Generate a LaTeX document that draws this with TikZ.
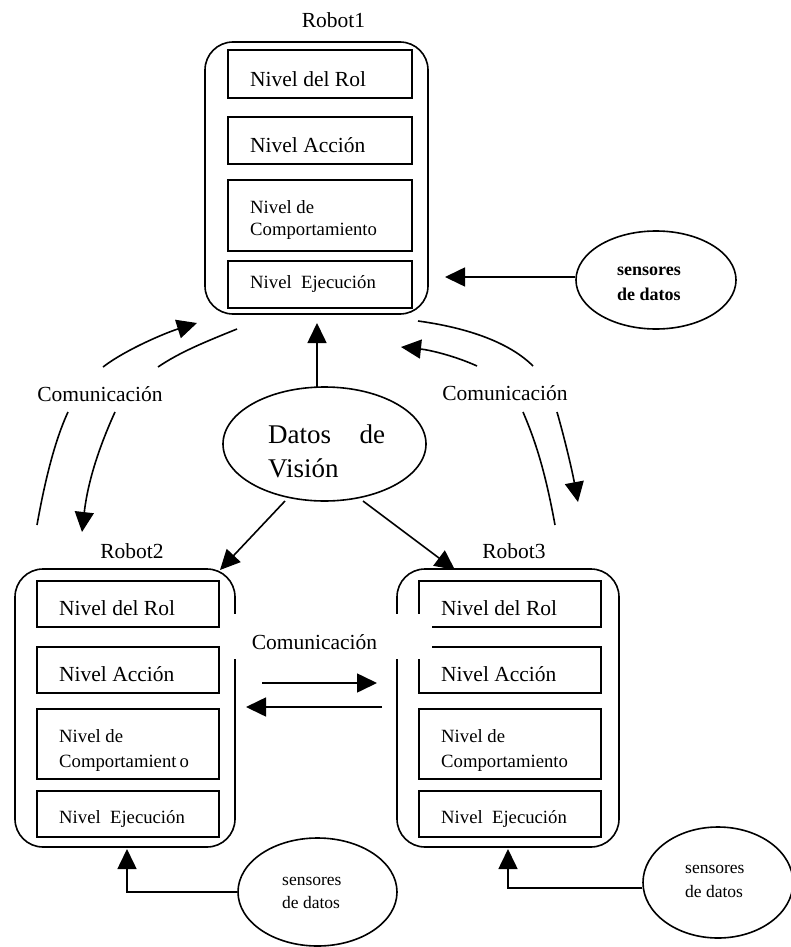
\documentclass[tikz,border=0pt]{standalone}
\usepackage{fontspec}
\setmainfont{Liberation Serif}
\usetikzlibrary{arrows.meta,shapes.geometric}

\tikzset{
  ink/.style={line width=1.6pt, black},
  robotbox/.style={draw, ink, rounded corners=28pt, inner sep=0pt},
  levelbox/.style={draw, ink, rectangle, inner sep=0pt},
  blob/.style={draw, ink, ellipse, inner sep=0pt},
  bigtxt/.style={font=\fontsize{21.5}{24}\selectfont, inner sep=0pt, anchor=base west},
  smalltxt/.style={font=\fontsize{18.7}{22}\selectfont, inner sep=0pt, anchor=base west},
  senstxt/.style={font=\fontsize{17.5}{20}\selectfont, inner sep=0pt, anchor=base west},
  titletxt/.style={font=\fontsize{21.5}{24}\selectfont, inner sep=0pt, anchor=base},
  conn/.style={ink, -{Triangle[length=20pt,width=19pt]}},
  plain/.style={ink}
}

\begin{document}
\begin{tikzpicture}[x=1pt,y=-1pt]
\useasboundingbox (0,0) rectangle (791,947);

% ---------------- Robot1 ----------------
\node[titletxt] (t1) at (333.5,28) {Robot1};
\node[robotbox, minimum width=223pt, minimum height=272pt] (r1) at (316.5,178) {};
\node[levelbox, minimum width=184pt, minimum height=48pt] (r1a) at (320,74) {};
\node[levelbox, minimum width=184pt, minimum height=47pt] (r1b) at (320,140.5) {};
\node[levelbox, minimum width=184pt, minimum height=71pt] (r1c) at (320,215.5) {};
\node[levelbox, minimum width=184pt, minimum height=47pt] (r1d) at (320,284.5) {};
\node[bigtxt] (r1at) at (250,87) {Nivel del Rol};
\node[bigtxt] (r1bt) at (250,152) {Nivel Acción};
\node[smalltxt] (r1ct) at (250,213) {Nivel de};
\node[smalltxt] (r1cu) at (250,235) {Comportamiento};
\node[smalltxt] (r1dt) at (250,288) {Nivel\ \ Ejecución};

% ---------------- Robot2 ----------------
\node[titletxt] (t2) at (132,558) {Robot2};
\node[robotbox, minimum width=220pt, minimum height=278pt] (r2) at (125,708) {};
\node[levelbox, minimum width=182pt, minimum height=46pt] (r2a) at (128,604) {};
\node[levelbox, minimum width=182pt, minimum height=46pt] (r2b) at (128,670) {};
\node[levelbox, minimum width=182pt, minimum height=70pt] (r2c) at (128,744) {};
\node[levelbox, minimum width=182pt, minimum height=46pt] (r2d) at (128,814) {};
\node[bigtxt] (r2at) at (59,615) {Nivel del Rol};
\node[bigtxt] (r2bt) at (59,681) {Nivel Acción};
\node[smalltxt] (r2ct) at (59,742) {Nivel de};
\node[smalltxt] (r2cu) at (59,767) {Comportamient\,o};
\node[smalltxt] (r2dt) at (59,823) {Nivel\ \ Ejecución};

% ---------------- Robot3 ----------------
\node[titletxt] (t3) at (514,558) {Robot3};
\node[robotbox, minimum width=222pt, minimum height=278pt] (r3) at (508,708) {};
\node[levelbox, minimum width=182pt, minimum height=46pt] (r3a) at (510,604) {};
\node[levelbox, minimum width=182pt, minimum height=46pt] (r3b) at (510,670) {};
\node[levelbox, minimum width=182pt, minimum height=70pt] (r3c) at (510,744) {};
\node[levelbox, minimum width=182pt, minimum height=46pt] (r3d) at (510,814) {};
\node[bigtxt] (r3at) at (441,615) {Nivel del Rol};
\node[bigtxt] (r3bt) at (441,681) {Nivel Acción};
\node[smalltxt] (r3ct) at (441,742) {Nivel de};
\node[smalltxt] (r3cu) at (441,767) {Comportamiento};
\node[smalltxt] (r3dt) at (441,823) {Nivel\ \ Ejecución};

% label between Robot2 and Robot3, set on a blank patch over the box borders
\fill[white] (234,614) rectangle (432,659);
\node[titletxt] (c23) at (314.5,649) {Comunicación};
\coordinate (c23a) at (262,683);
\coordinate (c23at) at (377,683);
\coordinate (c23b) at (382,707);
\coordinate (c23bt) at (246,707);
\draw[conn] (c23a) -- (c23at);
\draw[conn] (c23b) -- (c23bt);

% ---------------- vision data ----------------
\node[blob, minimum width=203pt, minimum height=114pt] (vis) at (324.5,444) {};
\node[font=\fontsize{27}{30}\selectfont, inner sep=0pt, anchor=base west] (vist) at (268,443) {\makebox[117pt][l]{Datos\hfill de}};
\node[font=\fontsize{27}{30}\selectfont, inner sep=0pt, anchor=base west] (visu) at (268,477) {Visión};
\coordinate (v1) at (317,388);
\coordinate (v1t) at (317,323);
\draw[conn] (v1) -- (v1t);
\coordinate (vl) at (285,501);
\coordinate (vlt) at (220,570);
\coordinate (vr) at (363,501);
\coordinate (vrt) at (455,570);
\draw[conn] (vl) -- (vlt);
\draw[conn] (vr) -- (vrt);

% ---------------- sensors ----------------
\node[blob, minimum width=160pt, minimum height=98pt] (s1) at (656,280) {};
\node[senstxt, font=\fontsize{18}{20}\selectfont\bfseries] (s1t) at (617,275) {sensores};
\node[senstxt, font=\fontsize{18}{20}\selectfont\bfseries] (s1u) at (617,300) {de datos};
\coordinate (s1tip) at (445,277);
\draw[conn] (s1.west |- s1tip) -- (s1tip);

\node[blob, minimum width=159pt, minimum height=108pt] (s2) at (317.5,892) {};
\node[senstxt] (s2t) at (282,885) {sensores};
\node[senstxt] (s2u) at (282,908) {de datos};
\coordinate (s2tip) at (127,849);
\draw[conn] (s2.west) -- (s2.west -| s2tip) -- (s2tip);

\node[blob, minimum width=150pt, minimum height=111pt] (s3) at (718,882.5) {};
\node[senstxt] (s3t) at (685,873) {sensores};
\node[senstxt] (s3u) at (685,897) {de datos};
\coordinate (s3tip) at (508,849);
\coordinate (s3row) at (0,888);
\draw[conn] (s3.west |- s3row) -- (s3tip |- s3row) -- (s3tip);

% ---------------- communication Robot1 <-> Robot2 ----------------
\node[titletxt] (c12) at (100,401) {Comunicación};
\coordinate (a1) at (103,367);  \coordinate (a2) at (197,323);
\coordinate (b1) at (237,329);  \coordinate (b2) at (158,367);
\coordinate (c1) at (37,525);   \coordinate (c2) at (68,412);
\coordinate (d1) at (115,412);  \coordinate (d2) at (82,532);
\draw[conn] (a1) .. controls (125,350) and (165,333) .. (a2);
\draw[plain] (b1) .. controls (205,342) and (180,352) .. (b2);
\draw[plain] (c1) .. controls (45,480) and (55,440) .. (c2);
\draw[conn] (d1) .. controls (100,445) and (88,480) .. (d2);

% ---------------- communication Robot1 <-> Robot3 ----------------
\node[titletxt] (c13) at (505,400) {Comunicación};
\coordinate (e1) at (418,321);  \coordinate (e2) at (533,366);
\coordinate (f1) at (477,366);  \coordinate (f2) at (401,347);
\coordinate (g1) at (523,412);  \coordinate (g2) at (555,525);
\coordinate (h1) at (557,412);  \coordinate (h2) at (578,502);
\draw[plain] (e1) .. controls (455,326) and (505,338) .. (e2);
\draw[conn] (f1) .. controls (455,356) and (430,350) .. (f2);
\draw[plain] (g1) .. controls (535,440) and (545,470) .. (g2);
\draw[conn] (h1) .. controls (565,440) and (572,470) .. (h2);
\end{tikzpicture}
\end{document}
